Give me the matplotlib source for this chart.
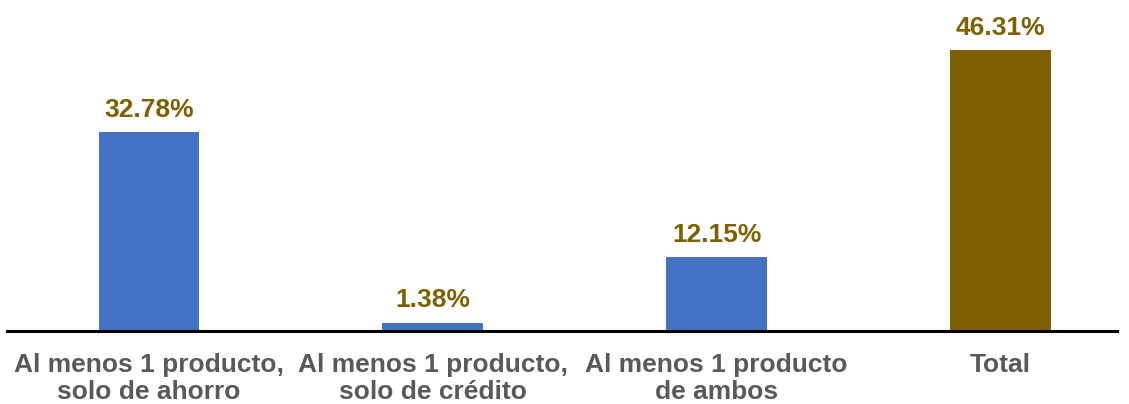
import matplotlib.pyplot as plt
import numpy as np

plt.rcParams["font.family"] = ["Liberation Sans", "DejaVu Sans"]

# datos
categorias = ["Al menos 1 producto,\nsolo de ahorro",
              "Al menos 1 producto,\nsolo de crédito",
              "Al menos 1 producto\nde ambos",
              "Total"]
valores = [32.78, 1.38, 12.15, 46.31]
colores = ["#4472C4", "#4472C4", "#4472C4", "#7F6000"]

fig = plt.figure(figsize=(11.29, 4.04), dpi=100)
ax = fig.add_axes([7 / 1129, 1 - 331 / 404, 1110 / 1129, 331 / 404])

x = np.arange(len(categorias))
barras = ax.bar(x, valores, width=0.355, color=colores)

for b, v in zip(barras, valores):
    ax.annotate(f"{v:.2f}%", (b.get_x() + b.get_width() / 2, v),
                xytext=(0, 7.5), textcoords="offset points",
                ha="center", va="bottom", fontsize=19, fontweight="bold",
                color="#7F6000")

ax.set_xlim(-0.5, 3.41)
ax.set_ylim(0, 54.6)
ax.set_xticks(x)
ax.set_xticklabels(categorias, fontsize=19, fontweight="bold", color="#595959",
                   linespacing=1.16)
ax.tick_params(axis="x", length=0, pad=16)
ax.set_yticks([])
for s in ["top", "right", "left"]:
    ax.spines[s].set_visible(False)
ax.spines["bottom"].set_linewidth(2.2)
ax.spines["bottom"].set_color("black")

plt.savefig("out.png", dpi=100)
